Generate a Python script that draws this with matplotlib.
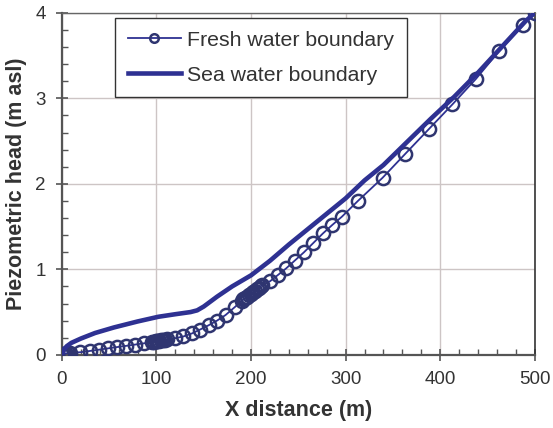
import matplotlib
matplotlib.use('Agg')
import matplotlib.pyplot as plt
from matplotlib.ticker import MultipleLocator

# fresh water boundary (circles)
fresh_x = [0, 1, 2, 3, 4, 6, 8,
           19.5, 29.5, 39, 48.5, 58, 68, 77.5, 87,
           95, 97, 99, 101, 103, 105, 107, 109, 111,
           120, 128.5, 137.5, 146, 155, 164, 173, 183,
           190, 192, 194, 196, 198, 200, 202, 204, 206, 208, 210, 212,
           220, 228, 237, 246, 256, 266, 276, 286, 296,
           313, 339, 363, 388, 413, 438, 462, 488, 500]
fresh_y = [0, 0.005, 0.01, 0.012, 0.015, 0.02, 0.025,
           0.03, 0.045, 0.06, 0.075, 0.09, 0.105, 0.12, 0.135,
           0.15, 0.153, 0.157, 0.16, 0.165, 0.17, 0.173, 0.177, 0.18,
           0.195, 0.215, 0.25, 0.295, 0.345, 0.40, 0.465, 0.56,
           0.63, 0.65, 0.665, 0.68, 0.70, 0.715, 0.73, 0.75, 0.765, 0.785, 0.80, 0.82,
           0.86, 0.93, 1.01, 1.10, 1.20, 1.31, 1.42, 1.52, 1.615,
           1.80, 2.07, 2.35, 2.64, 2.93, 3.23, 3.55, 3.86, 4.0]

# sea water boundary (thick line)
sea_x = [0, 2, 5, 10, 20, 35, 55, 80, 102, 120, 136, 143, 150, 164, 180,
         200, 220, 240, 260, 280, 300, 320, 340, 365, 390, 415, 440, 465, 490, 500]
sea_y = [0, 0.06, 0.10, 0.14, 0.19, 0.255, 0.32, 0.39, 0.445, 0.475, 0.50, 0.52, 0.565, 0.68, 0.80,
         0.93, 1.10, 1.29, 1.47, 1.65, 1.83, 2.04, 2.22, 2.49, 2.76, 3.02, 3.30, 3.60, 3.90, 4.0]

plt.rcParams['font.family'] = ['Liberation Sans', 'DejaVu Sans']
txt = '#333333'

fig = plt.figure(figsize=(5.53, 4.28), dpi=100)
ax = fig.add_axes([0.112, 0.171, 0.855, 0.799])

ax.plot(fresh_x, fresh_y, color='#2e3192', lw=1.3, marker='o', ms=9.5,
        mfc='none', mec='#2f3570', mew=1.8, label='Fresh water boundary', zorder=3)
ax.plot(sea_x, sea_y, color='#2e3192', lw=3.3, label='Sea water boundary', zorder=4)

ax.set_xlim(0, 500)
ax.set_ylim(0, 4)
ax.xaxis.set_major_locator(MultipleLocator(100))
ax.xaxis.set_minor_locator(MultipleLocator(20))
ax.yaxis.set_major_locator(MultipleLocator(1))
ax.yaxis.set_minor_locator(MultipleLocator(0.2))
ax.grid(True, which='major', color='#cdc5c5', lw=1, zorder=0)
ax.set_axisbelow(True)

ax.tick_params(which='major', direction='inout', length=9, width=1.2, colors='#555555',
               labelsize=13.5, labelcolor=txt, pad=7)
ax.tick_params(which='minor', direction='in', length=4, width=1, colors='#555555')
ax.tick_params(top=False, right=False, which='both')

for s in ['left', 'bottom']:
    ax.spines[s].set_color('#555555')
    ax.spines[s].set_linewidth(1.6)
ax.spines['top'].set_color('#666666')
ax.spines['top'].set_linewidth(1)
ax.spines['right'].set_color('#333333')
ax.spines['right'].set_linewidth(1.2)

ax.set_xlabel('X distance (m)', fontsize=15.5, fontweight='bold', color=txt, labelpad=9)
ax.set_ylabel('Piezometric head (m asl)', fontsize=15.5, fontweight='bold', color=txt, labelpad=6)

leg = ax.legend(loc='upper left', bbox_to_anchor=(0.112, 0.985), borderaxespad=0,
                fontsize=15.3, fancybox=False, framealpha=1, edgecolor='#333333',
                handlelength=2.5, handletextpad=0.3, markerscale=0.65,
                borderpad=0.6, labelspacing=0.75)
leg.get_frame().set_linewidth(1)
for t in leg.get_texts():
    t.set_color(txt)

plt.savefig('out.png', dpi=100)
